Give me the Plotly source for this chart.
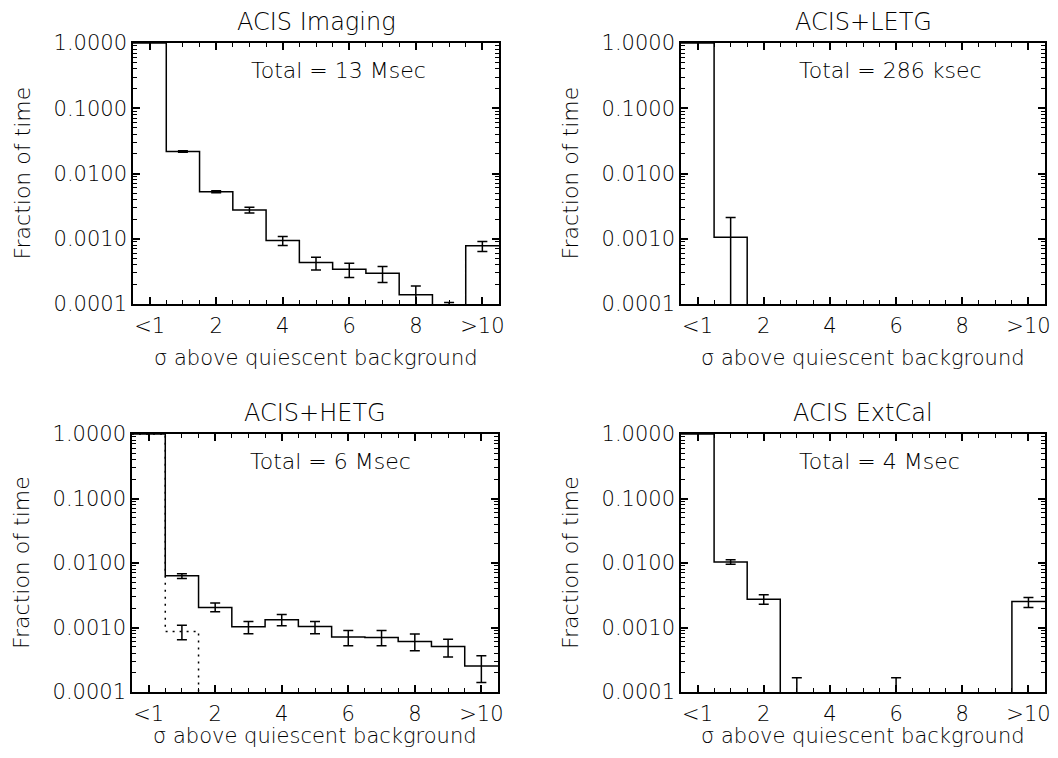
import plotly.graph_objects as go

# ---------------- data ----------------
bins = [0, 1, 2, 3, 4, 5, 6, 7, 8, 9, 10]
x_tickvals = [0, 2, 4, 6, 8, 10]
x_ticktext = ["<1", "2", "4", "6", "8", ">10"]

panel_titles = ["ACIS Imaging", "ACIS+LETG", "ACIS+HETG", "ACIS ExtCal"]
panel_totals = ["Total = 13 Msec", "Total = 286 ksec", "Total = 6 Msec", "Total = 4 Msec"]

imaging_frac = [1.0, 0.0218, 0.00523, 0.00277, 0.00094, 0.000432, 0.000342, 0.000297, 0.000139, 0.0, 0.000778]
imaging_hi = [None, 0.0224, 0.00542, 0.00305, 0.00108, 0.000522, 0.000423, 0.000375, 0.000189, 0.000105, 0.000906]
imaging_lo = [None, 0.0212, 0.00505, 0.00249, 0.000787, 0.000333, 0.000254, 0.000213, 0.000089, 0.0, 0.000637]

letg_frac = [1.0, 0.00105, 0, 0, 0, 0, 0, 0, 0, 0, 0]
letg_hi = [None, 0.00211, None, None, None, None, None, None, None, None, None]
letg_lo = [None, 0.0, None, None, None, None, None, None, None, None, None]

hetg_frac = [1.0, 0.00632, 0.00205, 0.00103, 0.00132, 0.00104, 0.00071, 0.000702, 0.000608, 0.000509, 0.000252]
hetg_hi = [None, 0.00679, 0.00239, 0.00124, 0.00159, 0.00124, 0.0009, 0.0009, 0.00079, 0.00066, 0.000365]
hetg_lo = [None, 0.00575, 0.00175, 0.0008, 0.00106, 0.0008, 0.00052, 0.00052, 0.000437, 0.000348, 0.000141]

hetg_dot_frac = [1.0, 0.00087, 0, 0, 0, 0, 0, 0, 0, 0, 0]
hetg_dot_hi = [None, 0.00108, None, None, None, None, None, None, None, None, None]
hetg_dot_lo = [None, 0.000645, None, None, None, None, None, None, None, None, None]

extcal_frac = [1.0, 0.0104, 0.00275, 0, 0, 0, 0, 0, 0, 0, 0.00253]
extcal_hi = [None, 0.0112, 0.00321, 0.000167, None, None, 0.000167, None, None, None, 0.00292]
extcal_lo = [None, 0.0096, 0.0023, 0.0, None, None, 0.0, None, None, None, 0.00205]

# ---------------- layout geometry ----------------
PAGE_W, PAGE_H = 1058, 758
OFF = 8  # default page body margin
W, H = PAGE_W - 2 * OFF, PAGE_H - 2 * OFF
FLOOR = 1e-6
FONT = "DejaVu Sans"
WEIGHT = 200

# plot areas in page pixels: (left, right, top, bottom)
boxes = [(133, 499, 43, 304), (681, 1045, 43, 304),
         (132, 498, 434, 692), (681, 1045, 434, 692)]
xtitle_gap = [54, 54, 44, 44]


def px(xp):
    return (xp - OFF) / W


def py(yp):
    return 1 - (yp - OFF) / H


fig = go.Figure()


def step_trace(frac, axn, dash):
    edges = [b - 0.5 for b in bins] + [bins[-1] + 0.5]
    ys = [max(v, FLOOR) for v in frac] + [max(frac[-1], FLOOR)]
    return go.Scatter(x=edges, y=ys, mode="lines", line_shape="hv",
                      line=dict(color="black", width=1.5, dash=dash),
                      xaxis="x" + axn, yaxis="y" + axn, showlegend=False,
                      hoverinfo="skip")


def err_trace(frac, hi, lo, axn):
    xs, ys, ep, em = [], [], [], []
    for b, v, h, l in zip(bins, frac, hi, lo):
        if h is None:
            continue
        y = max(v, FLOOR)
        xs.append(b)
        ys.append(y)
        ep.append(h - y)
        em.append(y - max(l, FLOOR))
    return go.Scatter(x=xs, y=ys, mode="markers", marker=dict(size=0.1, color="rgba(0,0,0,0)"),
                      error_y=dict(type="data", array=ep, arrayminus=em, symmetric=False,
                                   color="black", thickness=1.5, width=5),
                      xaxis="x" + axn, yaxis="y" + axn, showlegend=False,
                      hoverinfo="skip")


fig.add_trace(step_trace(imaging_frac, "", "solid"))
fig.add_trace(err_trace(imaging_frac, imaging_hi, imaging_lo, ""))
fig.add_trace(step_trace(letg_frac, "2", "solid"))
fig.add_trace(err_trace(letg_frac, letg_hi, letg_lo, "2"))
fig.add_trace(step_trace(hetg_dot_frac, "3", "2px,5px"))
fig.add_trace(err_trace(hetg_dot_frac, hetg_dot_hi, hetg_dot_lo, "3"))
fig.add_trace(step_trace(hetg_frac, "3", "solid"))
fig.add_trace(err_trace(hetg_frac, hetg_hi, hetg_lo, "3"))
fig.add_trace(step_trace(extcal_frac, "4", "solid"))
fig.add_trace(err_trace(extcal_frac, extcal_hi, extcal_lo, "4"))

FS = 21
axfont = dict(family=FONT, size=FS, color="black", weight=WEIGHT)

layout = dict(width=W, height=H, margin=dict(l=0, r=0, t=0, b=0, autoexpand=False),
              paper_bgcolor="white", plot_bgcolor="white", showlegend=False,
              font=dict(family=FONT, size=FS, color="black", weight=WEIGHT))

annotations = []
for i, (l, r, t, b) in enumerate(boxes):
    sfx = "" if i == 0 else str(i + 1)
    xdom = [px(l), px(r)]
    ydom = [py(b), py(t)]
    xa = dict(
        domain=xdom, range=[-0.5, 10.5], anchor="y" + sfx,
        tickmode="array", tickvals=x_tickvals, ticktext=x_ticktext,
        ticks="inside", ticklen=7, tickwidth=1.5, tickcolor="black",
        minor=dict(dtick=0.5, tick0=0, ticks="inside", ticklen=4, tickwidth=1.3, tickcolor="black"),
        showline=True, linecolor="black", linewidth=1.5, mirror="ticks",
        showgrid=False, zeroline=False, tickfont=axfont, ticklabelstandoff=2,
        ticklabeloverflow="allow")
    ya = dict(
        domain=ydom, type="log", range=[-4, 0], anchor="x" + sfx,
        dtick=1, tickformat=".4f",
        ticks="inside", ticklen=7, tickwidth=1.5, tickcolor="black",
        minor=dict(ticks="inside", ticklen=4, tickwidth=1.2, tickcolor="black"),
        showline=True, linecolor="black", linewidth=1.5, mirror="ticks",
        showgrid=False, zeroline=False, tickfont=axfont, ticklabelstandoff=0,
        ticklabeloverflow="allow")
    layout["xaxis" + sfx] = xa
    layout["yaxis" + sfx] = ya
    cx = (l + r) / 2
    annotations.append(dict(text=panel_titles[i], x=px(cx), y=py(t - 21),
                            xref="paper", yref="paper", showarrow=False,
                            xanchor="center", yanchor="middle",
                            font=dict(family=FONT, size=24, weight=WEIGHT)))
    annotations.append(dict(text=panel_totals[i], x=3.0, y=-0.42,
                            xref="x" + sfx, yref="y" + sfx, showarrow=False,
                            xanchor="left", yanchor="middle",
                            font=dict(family=FONT, size=22, weight=WEIGHT)))
    annotations.append(dict(text="Fraction of time", x=px(l - 111), y=py((t + b) / 2),
                            xref="paper", yref="paper", showarrow=False, textangle=-90,
                            xanchor="center", yanchor="middle",
                            font=dict(family=FONT, size=22, weight=WEIGHT)))
    annotations.append(dict(text="σ above quiescent background", x=px(cx), y=py(b + xtitle_gap[i]),
                            xref="paper", yref="paper", showarrow=False,
                            xanchor="center", yanchor="middle",
                            font=dict(family=FONT, size=21, weight=WEIGHT)))

layout["annotations"] = annotations
fig.update_layout(**layout)
fig.write_html("out.html")
